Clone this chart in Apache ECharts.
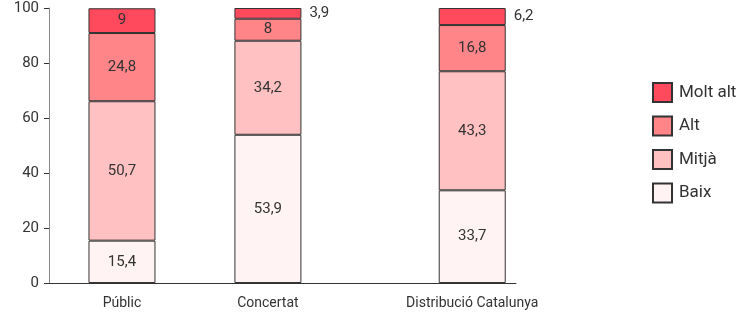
<!DOCTYPE html>
<html>
<head>
<meta charset="utf-8">
<script src="https://cdn.jsdelivr.net/npm/echarts@6/dist/echarts.min.js"></script>
<style>
    html, body { margin: 0; padding: 0; background: #fff; }
    #chart { width: 751px; height: 319px; }
</style>
</head>
<body>
<div id="chart"></div>
<script>
// dades
const categories = ['Públic', 'Concertat', 'Distribució Catalunya'];
const baix = [15.4, 53.9, 33.7];
const mitja = [50.7, 34.2, 43.3];
const alt = [24.8, 8, 16.8];
const moltAlt = [9, 3.9, 6.2];
const yTicks = [0, 20, 40, 60, 80, 100];

// posicions de les barres dins l'eix (ranures buides entre elles)
const nSlots = 16;
const slotOf = [2, 7, 14];
const tickSlots = [0, 5, 10, 13];

const slotLabels = [];
for (let i = 0; i < nSlots; i++) slotLabels.push('');
slotOf.forEach(function (s, i) { slotLabels[s] = categories[i]; });

function spread(values) {
    const out = [];
    for (let i = 0; i < nSlots; i++) out.push('-');
    slotOf.forEach(function (s, i) {
        const v = values[i];
        out[s] = v < 7 ? { value: v, label: { position: 'right', distance: 8 } } : v;
    });
    return out;
}

function comma(p) {
    return String(p.value).replace('.', ',');
}

function serie(name, values, color) {
    return {
        name: name,
        type: 'bar',
        stack: 'total',
        barWidth: 67,
        data: spread(values),
        itemStyle: { color: color, borderColor: '#333', borderWidth: 1 },
        label: {
            show: true,
            position: 'inside',
            formatter: comma,
            color: '#333',
            fontSize: 15,
            fontFamily: 'Roboto',
        },
        emphasis: { disabled: true },
    };
}

const chart = echarts.init(document.getElementById('chart'));
const option = {
    animation: false,
    textStyle: { fontFamily: 'Roboto' },
    grid: { left: 49, top: 8, width: 467, bottom: 36, containLabel: false },
    legend: {
        orient: 'vertical',
        left: 652,
        top: 82,
        icon: 'rect',
        itemWidth: 19,
        itemHeight: 19,
        itemGap: 12.5,
        padding: 0,
        data: ['Molt alt', 'Alt', 'Mitjà', 'Baix'],
        textStyle: { fontSize: 17, color: '#333', fontFamily: 'Roboto', padding: [0, 0, 0, 2] },
    },
    xAxis: {
        type: 'category',
        data: slotLabels,
        axisLine: { lineStyle: { color: '#333' } },
        axisTick: {
            length: 6,
            lineStyle: { color: '#333' },
            interval: function (index) { return tickSlots.indexOf(index) >= 0; },
        },
        axisLabel: { interval: 0, color: '#333', fontSize: 14, margin: 13 },
    },
    yAxis: {
        type: 'value',
        min: yTicks[0],
        max: yTicks[yTicks.length - 1],
        interval: 20,
        splitLine: { show: false },
        axisLine: { show: true, lineStyle: { color: '#888' } },
        axisTick: { show: true, length: 5, lineStyle: { color: '#333' } },
        axisLabel: { color: '#333', fontSize: 15, margin: 10 },
    },
    series: [
        serie('Baix', baix, '#fff4f3'),
        serie('Mitjà', mitja, '#ffc1c1'),
        serie('Alt', alt, '#ff8589'),
        serie('Molt alt', moltAlt, '#ff4a5e'),
    ],
};
chart.setOption(option);
</script>
</body>
</html>
